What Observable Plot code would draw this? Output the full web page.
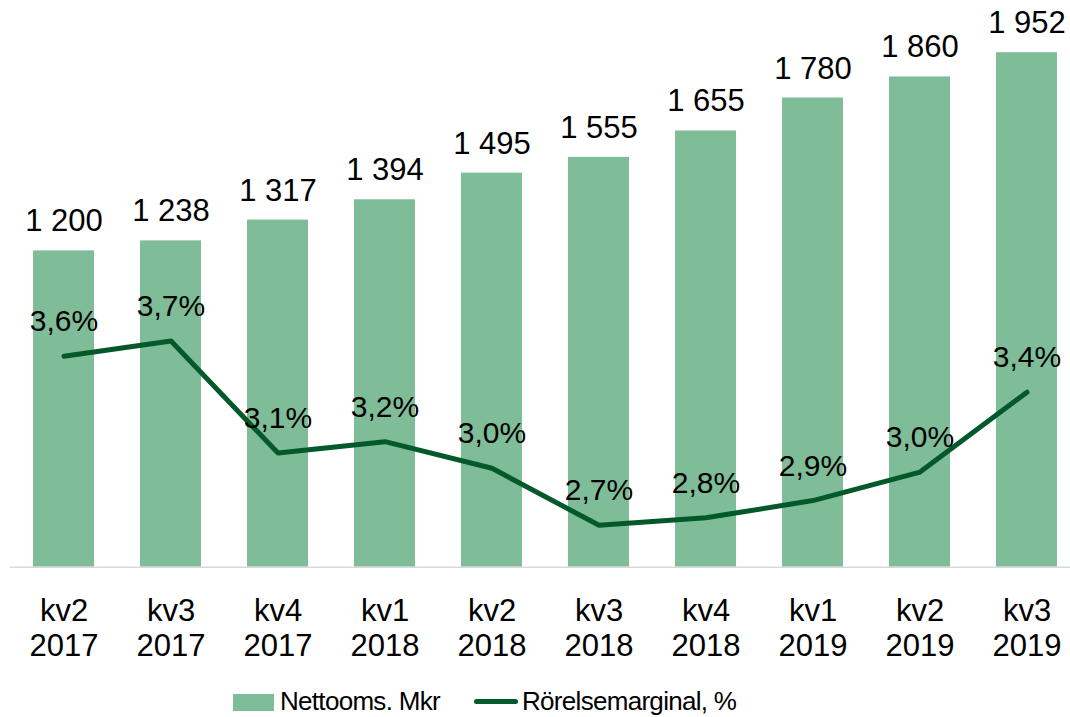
<!DOCTYPE html>
<html>
<head>
<meta charset="utf-8">
<script src="https://cdn.jsdelivr.net/npm/d3@7"></script>
<script src="https://cdn.jsdelivr.net/npm/@observablehq/plot@0.6"></script>
<style>
  html, body { margin: 0; padding: 0; background: #fff; }
  #wrap { width: 1070px; height: 717px; position: relative; font-family: "Liberation Sans", Arial, sans-serif; }
  #legend { position: absolute; left: 0; top: 672px; width: 1070px; height: 45px; }
  .sw { position: absolute; }
  .lt { position: absolute; font-size: 26px; letter-spacing: -0.7px; color: #000; line-height: 1; }
</style>
</head>
<body>
<div id="wrap">
  <div id="chart"></div>
  <div id="legend">
    <div class="sw" style="left:233px; top:22px; width:41px; height:17px; background:#7fbd99;"></div>
    <div class="lt" style="left:280px; top:16px;">Nettooms. Mkr</div>
    <div class="sw" style="left:474px; top:27px; width:44px; height:5px; border-radius:3px; background:#04592b;"></div>
    <div class="lt" style="left:522px; top:16px;">Rörelsemarginal, %</div>
  </div>
</div>
<script>
const quarters = ["kv2 2017","kv3 2017","kv4 2017","kv1 2018","kv2 2018","kv3 2018","kv4 2018","kv1 2019","kv2 2019","kv3 2019"];
const sales = [1200, 1238, 1317, 1394, 1495, 1555, 1655, 1780, 1860, 1952];
const margin = [3.62, 3.70, 3.11, 3.17, 3.03, 2.73, 2.77, 2.86, 3.01, 3.43];

// secondary axis mapping (percent -> primary y units)
const pctToY = p => (121.7 + (p - 3.15) * 190) / 0.26352;

const data = quarters.map((q, i) => ({q, sales: sales[i], margin: margin[i], my: pctToY(margin[i])}));
const fmtNum = v => d3.format(",")(v).replace(/,/g, "\u00a0");
const fmtPct = v => v.toFixed(1).replace(".", ",") + "%";

const chart = Plot.plot({
  width: 1070,
  height: 672,
  marginLeft: 10,
  marginRight: 0,
  marginTop: 0,
  marginBottom: 105.3,
  style: {fontFamily: "'Liberation Sans', Arial, sans-serif", background: "#fff", overflow: "visible"},
  x: {type: "band", domain: quarters, range: [9.8, 1079.8], paddingInner: 0.43, paddingOuter: 0.215, axis: null, label: null},
  y: {domain: [0, 2150], axis: null},
  marks: [
    Plot.barY(data, {x: "q", y: "sales", fill: "#7fbd99"}),
    Plot.ruleY([0], {stroke: "#d9d9d9", strokeWidth: 1.5}),
    Plot.line(data, {x: "q", y: "my", stroke: "#04592b", strokeWidth: 5, strokeLinecap: "round", strokeLinejoin: "round"}),
    Plot.text(data, {x: "q", y: "sales", text: d => fmtNum(d.sales), lineAnchor: "bottom", dy: -19.5, fontSize: 31, fill: "#000"}),
    Plot.text(data, {x: "q", y: "my", text: d => fmtPct(d.margin), lineAnchor: "bottom", dy: -25, fontSize: 30, fill: "#000"}),
    Plot.axisX({tickSize: 0, tickPadding: 28, fontSize: 31, lineHeight: 1.15, label: null, tickFormat: d => d.replace(" ", "\n"), color: "#000"})
  ]
});
document.getElementById("chart").appendChild(chart);
</script>
</body>
</html>
